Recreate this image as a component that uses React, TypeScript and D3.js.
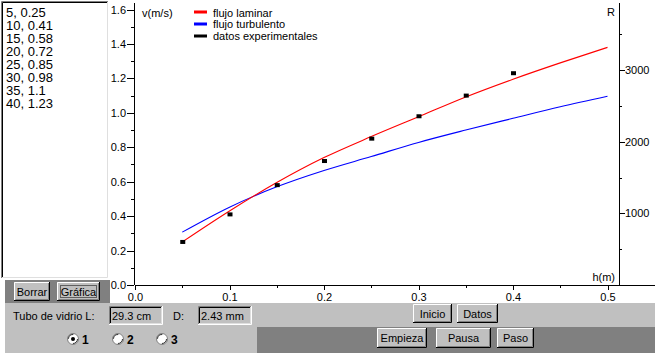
import React, { useEffect, useRef } from "react";
import * as d3 from "d3";

// sampled model curves, h in metres
const hSamples = [0.05, 0.1, 0.15, 0.2, 0.25, 0.3, 0.35, 0.4, 0.45, 0.5];
const laminarV = [0.25, 0.43, 0.595, 0.74, 0.862, 0.977, 1.092, 1.195, 1.29, 1.38];
const turbulentV = [0.307, 0.452, 0.57, 0.665, 0.746, 0.828, 0.9, 0.968, 1.035, 1.096];

// experimental data (h in cm, v in m/s)
const expH = [5, 10, 15, 20, 25, 30, 35, 40];
const expV = [0.25, 0.41, 0.58, 0.72, 0.85, 0.98, 1.1, 1.23];

const xTicks = [0, 0.1, 0.2, 0.3, 0.4, 0.5];
const xMinor = [0.05, 0.15, 0.25, 0.35, 0.45];
const yTicks = [0, 0.2, 0.4, 0.6, 0.8, 1.0, 1.2, 1.4, 1.6];
const yMinor = [0.1, 0.3, 0.5, 0.7, 0.9, 1.1, 1.3, 1.5];
const rTicks = [1000, 2000, 3000];
const rMinor = [500, 1500, 2500, 3500];

const legendItems = [
  { label: "flujo laminar", color: "#ff0000" },
  { label: "flujo turbulento", color: "#0000ff" },
  { label: "datos experimentales", color: "#000000" },
];

const FONT = "'Liberation Sans', Arial, sans-serif";

const Button = ({ x, y, w, h, label, def }: any) => (
  <g>
    <rect x={x} y={y} width={w} height={h} fill="#c0c0c0" />
    <path d={`M${x + 0.5},${y + h - 1}V${y + 0.5}H${x + w - 1}`} stroke="#fff" fill="none" />
    <path d={`M${x},${y + h - 0.5}H${x + w - 0.5}V${y}`} stroke="#000" fill="none" />
    <path d={`M${x + 1.5},${y + h - 1.5}H${x + w - 1.5}V${y + 1}`} stroke="#808080" fill="none" />
    {def && (
      <rect x={x + 3.5} y={y + 3.5} width={w - 7} height={h - 7} fill="none" stroke="#606060" />
    )}
    <text x={x + w / 2} y={y + h / 2 + 4} textAnchor="middle" fontSize={11}>
      {label}
    </text>
  </g>
);

const Sunken = ({ x, y, w, h, fill }: any) => (
  <g>
    <rect x={x} y={y} width={w} height={h} fill={fill} />
    <path d={`M${x + 0.5},${y + h}V${y + 0.5}H${x + w}`} stroke="#808080" fill="none" />
    <path d={`M${x + 1.5},${y + h - 1}V${y + 1.5}H${x + w - 1}`} stroke="#000" fill="none" />
    <path d={`M${x},${y + h - 0.5}H${x + w - 0.5}V${y}`} stroke="#fff" fill="none" />
    <path d={`M${x + 1},${y + h - 1.5}H${x + w - 1.5}V${y + 1}`} stroke="#dfdfdf" fill="none" />
  </g>
);

const Radio = ({ cx, cy, label, checked }: any) => (
  <g>
    <circle cx={cx} cy={cy} r={5.5} fill="#fff" stroke="#808080" />
    <circle cx={cx} cy={cy} r={4.5} fill="none" stroke="#000" strokeWidth={0.8} strokeDasharray="7 7" />
    {checked && <circle cx={cx} cy={cy} r={2} fill="#000" />}
    <text x={cx + 9} y={cy + 5} fontSize={12} fontWeight="bold">
      {label}
    </text>
  </g>
);

export default function App() {
  const xAxisRef = useRef<SVGGElement>(null);
  const xMinorRef = useRef<SVGGElement>(null);
  const yAxisRef = useRef<SVGGElement>(null);
  const yMinorRef = useRef<SVGGElement>(null);
  const rAxisRef = useRef<SVGGElement>(null);
  const rMinorRef = useRef<SVGGElement>(null);

  const x = d3.scaleLinear().domain([0, 0.5]).range([135, 607.5]);
  const y = d3.scaleLinear().domain([0, 1.6]).range([285, 9.5]);
  const r = d3.scaleLinear().domain([0, 3000]).range([285, 70]);

  useEffect(() => {
    const style = (g: any, labels: boolean) => {
      g.select(".domain").remove();
      g.selectAll("line").attr("stroke", "#000").attr("shape-rendering", "crispEdges");
      if (labels) g.selectAll("text").attr("font-size", 11).attr("font-family", FONT).attr("fill", "#000");
      else g.selectAll("text").remove();
    };
    d3.select(xAxisRef.current)
      .call(d3.axisBottom(x).tickValues(xTicks).tickSize(5).tickPadding(3).tickFormat(d3.format(".1f")) as any)
      .call((g: any) => style(g, true));
    d3.select(xMinorRef.current)
      .call(d3.axisBottom(x).tickValues(xMinor).tickSize(3) as any)
      .call((g: any) => style(g, false));
    d3.select(yAxisRef.current)
      .call(d3.axisLeft(y).tickValues(yTicks).tickSize(7).tickPadding(1).tickFormat(d3.format(".1f")) as any)
      .call((g: any) => style(g, true));
    d3.select(yMinorRef.current)
      .call(d3.axisLeft(y).tickValues(yMinor).tickSize(3) as any)
      .call((g: any) => style(g, false));
    d3.select(rAxisRef.current)
      .call(d3.axisRight(r).tickValues(rTicks).tickSize(6).tickPadding(0).tickFormat(d3.format("d")) as any)
      .call((g: any) => style(g, true));
    d3.select(rMinorRef.current)
      .call(d3.axisRight(r).tickValues(rMinor).tickSize(3) as any)
      .call((g: any) => style(g, false));
  }, []);

  const line = d3
    .line<number>()
    .x((_, i) => x(hSamples[i]))
    .y((d) => y(d))
    .curve(d3.curveMonotoneX);

  return (
    <svg
      width={660}
      height={361}
      style={{ position: "absolute", left: 0, top: 0, fontFamily: FONT }}
    >
      <rect width={660} height={361} fill="#fff" />

      {/* list box */}
      <Sunken x={1} y={1} w={108} h={278} fill="#fff" />
      {expH.map((h, i) => (
        <text key={h} x={6} y={17 + i * 13} fontSize={13}>
          {`${h}, ${expV[i]}`}
        </text>
      ))}

      {/* gray panels */}
      <rect x={5} y={280} width={105} height={23} fill="#808080" />
      <rect x={5} y={303} width={650} height={24} fill="#c0c0c0" />
      <rect x={5} y={327} width={252} height={26} fill="#c0c0c0" />
      <rect x={257} y={327} width={398} height={26} fill="#808080" />

      {/* axes lines */}
      <line x1={135} x2={655} y1={285.5} y2={285.5} stroke="#000" />
      <line x1={134.5} x2={134.5} y1={3} y2={285} stroke="#000" />
      <line x1={619.5} x2={619.5} y1={3} y2={285} stroke="#000" />
      <g ref={xAxisRef} transform="translate(0,285)" />
      <g ref={xMinorRef} transform="translate(0,285)" />
      <g ref={yAxisRef} transform="translate(134,0)" />
      <g ref={yMinorRef} transform="translate(134,0)" />
      <g ref={rAxisRef} transform="translate(619,0)" />
      <g ref={rMinorRef} transform="translate(619,0)" />

      <text x={142} y={17} fontSize={11}>v(m/s)</text>
      <text x={615} y={16} fontSize={11} textAnchor="end">R</text>
      <text x={615} y={281} fontSize={11} textAnchor="end">h(m)</text>

      {/* legend */}
      {legendItems.map((d, i) => (
        <g key={d.label}>
          <rect x={194} y={10.5 + i * 12} width={13} height={3} fill={d.color} />
          <text x={213} y={16.5 + i * 11.6} fontSize={11}>{d.label}</text>
        </g>
      ))}

      {/* curves */}
      <path d={line(turbulentV) || ""} fill="none" stroke="#0000ff" strokeWidth={1.1} />
      <path d={line(laminarV) || ""} fill="none" stroke="#ff0000" strokeWidth={1.1} />
      {expH.map((h, i) => (
        <rect
          key={h}
          x={x(h / 100) - 2}
          y={y(expV[i]) - 2}
          width={5}
          height={4}
          fill="#000"
        />
      ))}

      {/* controls */}
      <Button x={14} y={282} w={36} h={19} label="Borrar" />
      <Button x={57} y={282} w={43} h={19} label="Gráfica" def />

      <text x={13} y={320} fontSize={11}>Tubo de vidrio L:</text>
      <Sunken x={109} y={306} w={54} h={19} fill="#c0c0c0" />
      <text x={112} y={320} fontSize={11}>29.3 cm</text>
      <text x={173} y={320} fontSize={11}>D:</text>
      <Sunken x={198} y={306} w={54} h={19} fill="#c0c0c0" />
      <text x={201} y={320} fontSize={11}>2.43 mm</text>

      <Button x={413} y={304} w={39} h={19} label="Inicio" />
      <Button x={457} y={304} w={41} h={19} label="Datos" />

      <Radio cx={73} cy={339} label="1" checked />
      <Radio cx={118} cy={339} label="2" />
      <Radio cx={162} cy={339} label="3" />

      <Button x={377} y={328} w={50} h={20} label="Empieza" />
      <Button x={436} y={328} w={55} h={20} label="Pausa" />
      <Button x={497} y={328} w={37} h={20} label="Paso" />
    </svg>
  );
}
